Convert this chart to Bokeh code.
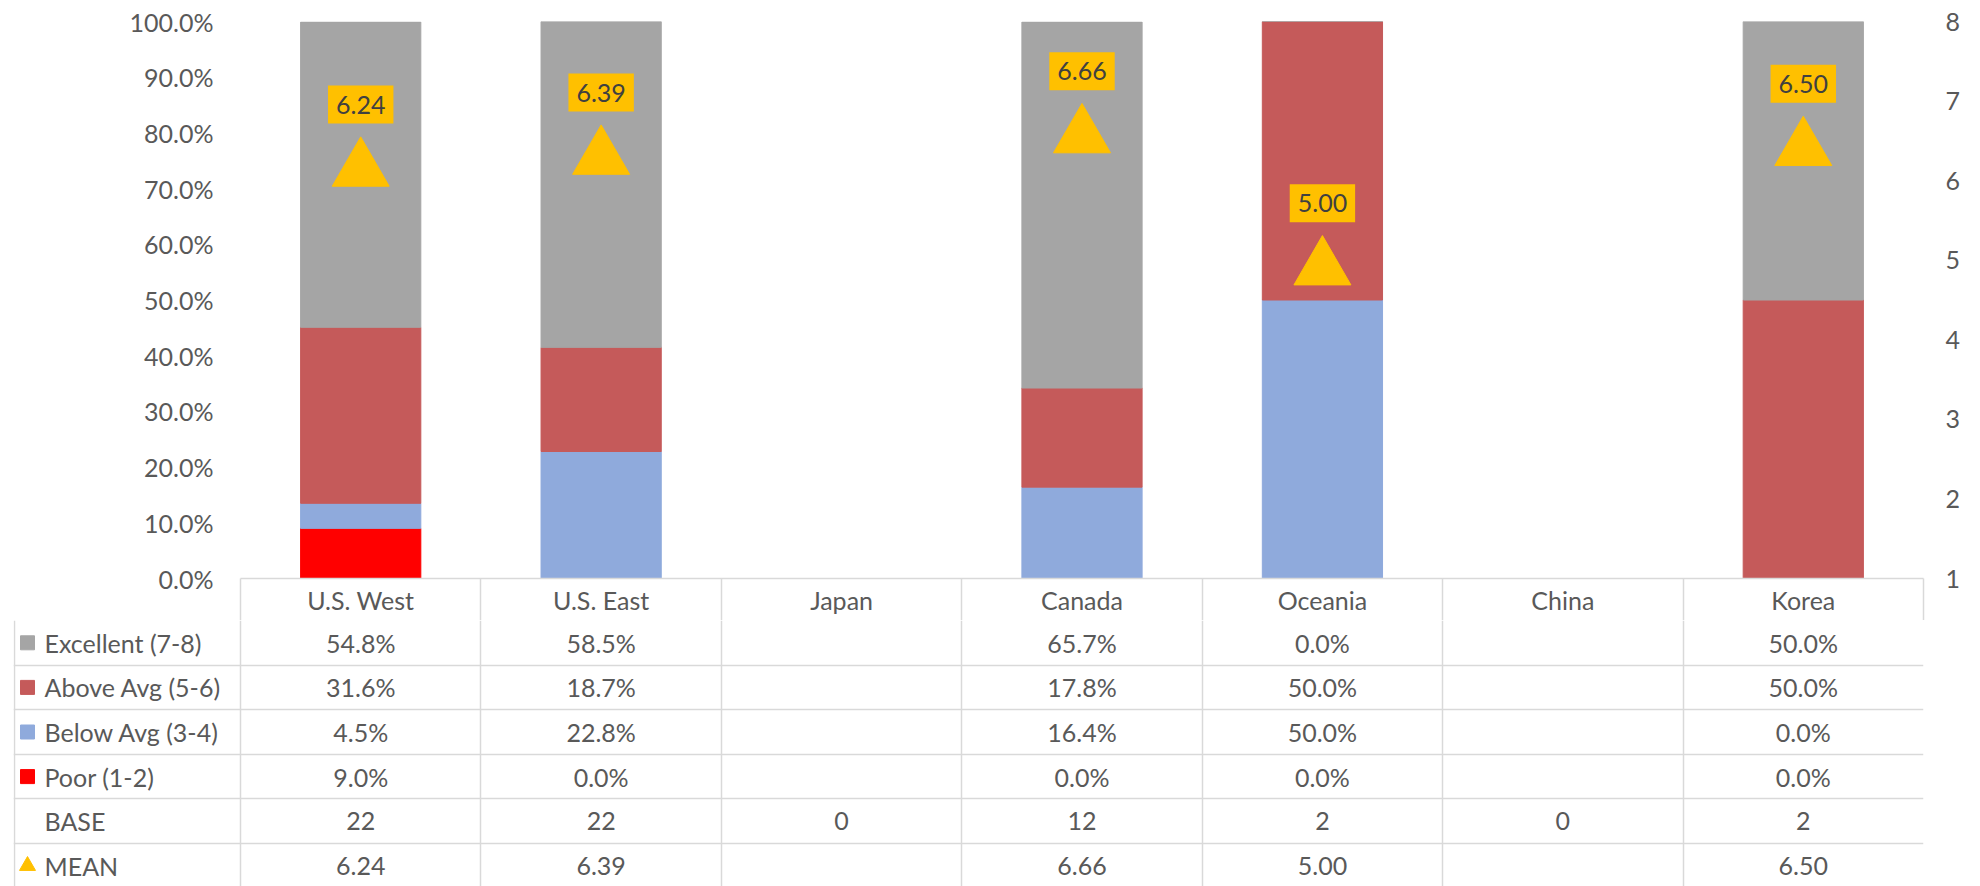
from bokeh.plotting import figure
from bokeh.models import Range1d, LinearAxis, FixedTicker, ColumnDataSource, PrintfTickFormatter, Grid
from bokeh.embed import file_html
from bokeh.resources import INLINE
from bokeh.core.properties import value
from bokeh.transform import dodge

# ---------------- data ----------------
categories = ["U.S. West", "U.S. East", "Japan", "Canada", "Oceania", "China", "Korea"]
excellent = [54.8, 58.5, None, 65.7, 0.0, None, 50.0]
above_avg = [31.6, 18.7, None, 17.8, 50.0, None, 50.0]
below_avg = [4.5, 22.8, None, 16.4, 50.0, None, 0.0]
poor = [9.0, 0.0, None, 0.0, 0.0, None, 0.0]
base = [22, 22, 0, 12, 2, 0, 2]
mean = [6.24, 6.39, None, 6.66, 5.00, None, 6.50]
series_names = ["Excellent (7-8)", "Above Avg (5-6)", "Below Avg (3-4)", "Poor (1-2)"]
row_names = series_names + ["BASE", "MEAN"]
pct_ticks = [0, 10, 20, 30, 40, 50, 60, 70, 80, 90, 100]
mean_ticks = [1, 2, 3, 4, 5, 6, 7, 8]

# ---------------- style ----------------
FONT = "Lato"
FS = "25px"
TXT = "#595959"
GRID = "#D9D9D9"
C_EXC = "#A5A5A5"
C_ABOVE = "#C55A5A"
C_BELOW = "#8FAADC"
C_POOR = "#FF0000"
C_MEAN = "#FFC000"
series_colors = [C_EXC, C_ABOVE, C_BELOW, C_POOR]

W = 1980
FRAME_L, FRAME_R = 240, 57          # borders of the chart figure
TOP_B, FRAME_H, HEAD_H = 21, 557, 42
TABLE_L = 13
TABLE_H = 266
ROW_H = 44.6
TRI_SIZE = 57

n = len(categories)
idx = list(range(n))
z = lambda a: [0.0 if v is None else v for v in a]

# ---------------- chart figure ----------------
p = figure(width=W, height=TOP_B + FRAME_H + HEAD_H,
           x_range=Range1d(-0.5, n - 0.5), y_range=Range1d(0, 100),
           x_axis_type=None, y_axis_type=None,
           output_backend="svg", toolbar_location=None,
           min_border_left=FRAME_L, min_border_right=FRAME_R,
           min_border_top=TOP_B, min_border_bottom=HEAD_H)
p.outline_line_color = None
p.background_fill_color = None
p.extra_y_ranges = {"mean": Range1d(mean_ticks[0], mean_ticks[-1])}

src = ColumnDataSource(dict(x=idx, poor=z(poor), below=z(below_avg),
                            above=z(above_avg), exc=z(excellent)))
p.vbar_stack(["poor", "below", "above", "exc"], x="x", width=0.5, source=src,
             color=[C_POOR, C_BELOW, C_ABOVE, C_EXC])

mx = [i for i, m in zip(idx, mean) if m is not None]
mv = [m for m in mean if m is not None]
msrc = ColumnDataSource(dict(x=mx, m=mv, lab=[f"{m:.2f}" for m in mv]))
ppu_mean = FRAME_H / (mean_ticks[-1] - mean_ticks[0])
tri_h = TRI_SIZE * 0.866
p.scatter(x="x", y=dodge("m", -(tri_h / 6) / ppu_mean), source=msrc, marker="triangle",
          size=TRI_SIZE, color=C_MEAN, y_range_name="mean")
p.text(x="x", y="m", text="lab", source=msrc, y_range_name="mean", y_offset=-57,
       text_align="center", text_baseline="middle", text_color="#404040",
       text_font=value(FONT), text_font_size=FS,
       background_fill_color=C_MEAN, padding=(8, 10))

yax = LinearAxis(ticker=FixedTicker(ticks=pct_ticks),
                 formatter=PrintfTickFormatter(format="%.1f%%"))
yr = LinearAxis(ticker=FixedTicker(ticks=mean_ticks), y_range_name="mean")
for ax, so in ((yax, 27), (yr, 22)):
    ax.axis_line_color = None
    ax.major_tick_line_color = None
    ax.minor_tick_line_color = None
    ax.major_tick_out = 0
    ax.major_tick_in = 0
    ax.major_label_standoff = so
    ax.major_label_text_font = FONT
    ax.major_label_text_font_size = FS
    ax.major_label_text_color = TXT
p.add_layout(yax, "left")
p.add_layout(yr, "right")

xax = LinearAxis(ticker=FixedTicker(ticks=idx, minor_ticks=[i - 0.5 for i in range(n + 1)]),
                 major_label_overrides={i: c for i, c in zip(idx, categories)})
xax.axis_line_color = GRID
xax.axis_line_width = 1.5
xax.major_tick_line_color = None
xax.major_tick_out = 0
xax.major_tick_in = 0
xax.minor_tick_in = 0
xax.minor_tick_out = HEAD_H
xax.minor_tick_line_color = GRID
xax.minor_tick_line_width = 1.5
xax.major_label_standoff = 6 - HEAD_H
xax.major_label_text_font = FONT
xax.major_label_text_font_size = FS
xax.major_label_text_color = TXT
p.add_layout(xax, "below")

# ---------------- data table figure ----------------
ppu = (W - FRAME_L - FRAME_R) / n
frame_w = W - TABLE_L - FRAME_R
x0 = (n - 0.5) - frame_w / ppu
q = figure(width=W, height=TABLE_H,
           x_range=Range1d(x0, n - 0.5), y_range=Range1d(-0.5 + TABLE_H / ROW_H, -0.5),
           x_axis_type=None, y_axis_type=None,
           output_backend="svg", toolbar_location=None,
           min_border_left=TABLE_L, min_border_right=FRAME_R, min_border_top=0, min_border_bottom=0)
q.outline_line_color = None
q.background_fill_color = None
q.add_layout(Grid(dimension=0, ticker=FixedTicker(ticks=[x0 + 1 / ppu] + [i - 0.5 for i in range(n + 1)]),
                  grid_line_color=GRID, grid_line_width=1.5))
q.add_layout(Grid(dimension=1, ticker=FixedTicker(ticks=[r - 0.5 for r in range(len(row_names) + 1)]),
                  grid_line_color=GRID, grid_line_width=1.5))

tx, ty, tt = [], [], []
for r, arr in enumerate([excellent, above_avg, below_avg, poor]):
    for i, v in enumerate(arr):
        if v is not None:
            tx.append(i); ty.append(r); tt.append(f"{v:.1f}%")
for i, v in enumerate(base):
    tx.append(i); ty.append(4); tt.append(str(v))
for i, v in enumerate(mean):
    if v is not None:
        tx.append(i); ty.append(5); tt.append(f"{v:.2f}")
q.text(x=tx, y=ty, text=tt, text_align="center", text_baseline="middle",
       text_color=TXT, text_font=value(FONT), text_font_size=FS)

rows = list(range(len(row_names)))
q.text(x=[x0 + 31 / ppu] * len(rows), y=rows, text=row_names, text_align="left",
       text_baseline="middle", text_color=TXT, text_font=value(FONT), text_font_size=FS)
q.scatter(x=[x0 + 14 / ppu] * 4, y=rows[:4], marker="square", size=14,
          color=series_colors)
q.scatter(x=[x0 + 14 / ppu], y=[5], marker="triangle", size=16, color=C_MEAN)

open("out.html", "w").write(file_html((p, q), INLINE))
